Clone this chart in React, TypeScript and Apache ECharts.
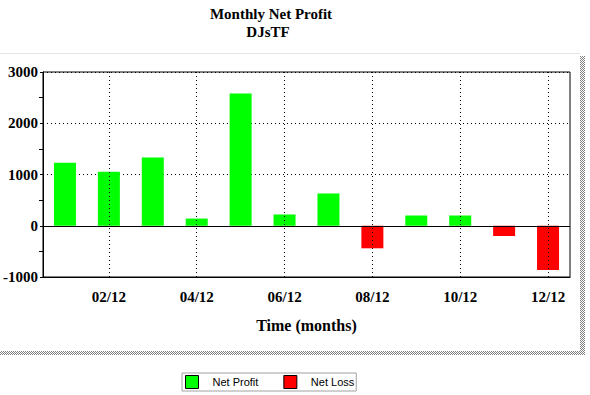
import React, { useEffect, useRef } from "react";
import * as echarts from "echarts";

const months = ["01/12", "02/12", "03/12", "04/12", "05/12", "06/12", "07/12", "08/12", "09/12", "10/12", "11/12", "12/12"];
const netProfit = [1230, 1055, 1330, 140, 2580, 220, 630, null, 200, 200, null, null];
const netLoss = [null, null, null, null, null, null, null, -440, null, null, -200, -865];
const gridMonths = ["02/12", "04/12", "06/12", "08/12", "10/12", "12/12"];
const titleLines = ["Monthly Net Profit", "DJsTF"];

const SERIF = '"Liberation Serif", "Times New Roman", serif';
const SANS = '"Liberation Sans", Arial, sans-serif';

export default function App() {
  const ref = useRef<HTMLDivElement>(null);
  useEffect(() => {
    document.body.style.margin = "0";
    if (!ref.current) return;
    const chart = echarts.init(ref.current, null, { renderer: "svg" });

    const c = document.createElement("canvas");
    c.width = 2;
    c.height = 2;
    const ctx = c.getContext("2d");
    if (ctx) {
      ctx.fillStyle = "#ffffff";
      ctx.fillRect(0, 0, 2, 2);
      ctx.fillStyle = "#808080";
      ctx.fillRect(0, 0, 1, 1);
      ctx.fillRect(1, 1, 1, 1);
    }
    const shadowFill: any = { image: c, repeat: "repeat" };

    chart.setOption({
      animation: false,
      backgroundColor: "#ffffff",
      graphic: [
        { type: "line", z: -10, shape: { x1: 0, y1: 53.5, x2: 580, y2: 53.5 }, style: { stroke: "#e4e4e4", lineWidth: 1 } },
        { type: "rect", z: -10, shape: { x: 580, y: 56, width: 5, height: 299 }, style: { fill: shadowFill } },
        { type: "rect", z: -10, shape: { x: 0, y: 351, width: 585, height: 4 }, style: { fill: shadowFill } },
        {
          type: "text", x: 271, y: 14,
          style: { text: titleLines[0], font: `bold 15px ${SERIF}`, fill: "#000", align: "center", verticalAlign: "middle" },
        },
        {
          type: "text", x: 268, y: 32,
          style: { text: titleLines[1], font: `bold 15px ${SERIF}`, fill: "#000", align: "center", verticalAlign: "middle" },
        },
      ],
      legend: {
        data: ["Net Profit", "Net Loss"],
        left: 182,
        top: 373,
        orient: "horizontal",
        itemWidth: 13,
        itemHeight: 13,
        itemGap: 25,
        padding: [2, 2, 2, 3],
        borderColor: "#a0a0a0",
        borderWidth: 1,
        borderRadius: 0,
        icon: "rect",
        itemStyle: { borderColor: "#000", borderWidth: 1 },
        textStyle: { fontFamily: SANS, fontSize: 11, color: "#000", padding: [0, 0, 0, 9] },
        selectedMode: false,
      },
      grid: {
        left: 42,
        right: 20,
        top: 72,
        bottom: 118,
        show: true,
        borderColor: "#000",
        borderWidth: 1,
        containLabel: false,
      },
      xAxis: {
        type: "category",
        data: months,
        boundaryGap: true,
        axisLine: { show: true, onZero: false, lineStyle: { color: "#000", width: 1 } },
        axisTick: { show: false },
        axisLabel: {
          interval: (i: number) => i % 2 === 1,
          color: "#000",
          fontFamily: SERIF,
          fontWeight: "bold",
          fontSize: 15,
          margin: 12,
        },
        splitLine: { show: false },
        name: "Time (months)",
        nameLocation: "middle",
        nameGap: 40,
        nameTextStyle: { color: "#000", fontFamily: SERIF, fontWeight: "bold", fontSize: 16 },
      },
      yAxis: {
        type: "value",
        min: -1000,
        max: 3000,
        interval: 1000,
        axisLine: { show: true, lineStyle: { color: "#000", width: 1 } },
        axisTick: { show: true, length: 3, lineStyle: { color: "#000" } },
        minorTick: { show: true, splitNumber: 2, length: 4, lineStyle: { color: "#000" } },
        axisLabel: {
          color: "#000",
          fontFamily: SERIF,
          fontWeight: "bold",
          fontSize: 15,
          margin: 5,
          formatter: (v: number) => String(v),
        },
        splitLine: { show: true, lineStyle: { color: "#000", type: [1, 3], width: 1 } },
      },
      series: [
        {
          name: "grid",
          type: "line",
          data: [],
          z: 1,
          silent: true,
          markLine: {
            silent: true,
            symbol: "none",
            label: { show: false },
            animation: false,
            data: [
              ...gridMonths.map((m) => ({ xAxis: m, lineStyle: { color: "#000", type: [1, 3], width: 1 } })),
              { yAxis: 0, lineStyle: { color: "#000", type: "solid", width: 1 } },
            ],
          },
        },
        {
          name: "Net Profit",
          type: "bar",
          data: netProfit,
          barWidth: 22,
          barGap: "-100%",
          z: 3,
          itemStyle: { color: "#00ff00" },
        },
        {
          name: "Net Loss",
          type: "bar",
          data: netLoss,
          barWidth: 22,
          barGap: "-100%",
          z: 3,
          itemStyle: { color: "#ff0000" },
        },
      ],
    });
    return () => chart.dispose();
  }, []);
  return <div ref={ref} style={{ width: 590, height: 395 }} />;
}
